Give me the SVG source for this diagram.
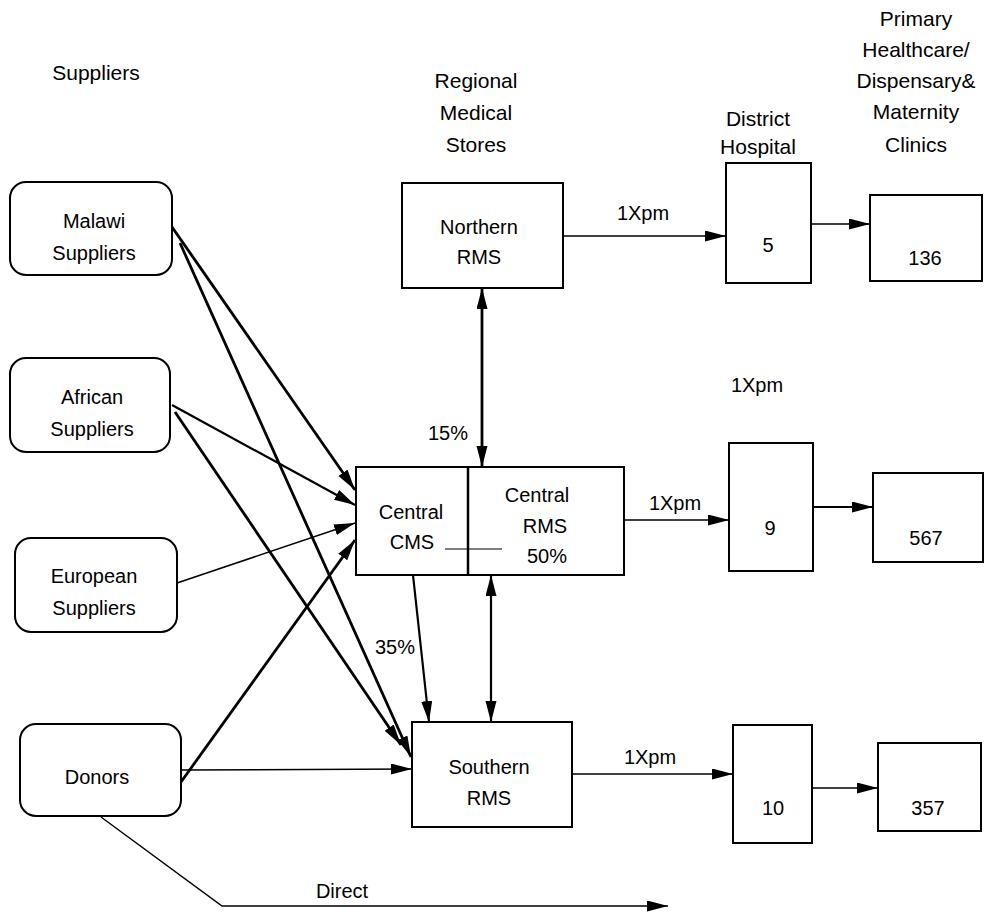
<svg xmlns="http://www.w3.org/2000/svg" width="991" height="912" viewBox="0 0 991 912">
<style>
  .box { fill: #fff; stroke: #000; stroke-width: 2; }
  .t { font-family: "Liberation Sans", Arial, sans-serif; font-size: 20px; fill: #000; text-anchor: middle; }
  .h { font-family: "Liberation Sans Narrow", "Liberation Sans", Arial, sans-serif; font-size: 21px; fill: #000; text-anchor: middle; }
  .c { fill: none; stroke: #000; }
  .w1 { stroke-width: 1.5; }
  .w2 { stroke-width: 2.2; }
  .w3 { stroke-width: 2.8; }
</style>
<defs>
  <marker id="ah" markerUnits="userSpaceOnUse" markerWidth="22" markerHeight="12" refX="21" refY="5.5" orient="auto-start-reverse">
    <path d="M0,0 L21,5.5 L0,11 z" fill="#000"/>
  </marker>
</defs>
<rect width="991" height="912" fill="#fff"/>

<g id="headers">
  <text class="h" x="96" y="80">Suppliers</text>
  <text class="h" x="476" y="88">Regional</text>
  <text class="h" x="476" y="120">Medical</text>
  <text class="h" x="476" y="152">Stores</text>
  <text class="h" x="758" y="126">District</text>
  <text class="h" x="758" y="154">Hospital</text>
  <text class="h" x="916" y="26">Primary</text>
  <text class="h" x="916" y="57">Healthcare/</text>
  <text class="h" x="916" y="88">Dispensary&amp;</text>
  <text class="h" x="916" y="119">Maternity</text>
  <text class="h" x="916" y="152">Clinics</text>
</g>

<g id="malawi">
  <rect class="box" x="10" y="182" width="162" height="93" rx="16"/>
  <text class="t" x="94" y="228">Malawi</text>
  <text class="t" x="94" y="260">Suppliers</text>
</g>
<g id="african">
  <rect class="box" x="10" y="358" width="160" height="94" rx="16"/>
  <text class="t" x="92" y="404">African</text>
  <text class="t" x="92" y="436">Suppliers</text>
</g>
<g id="european">
  <rect class="box" x="15" y="538" width="162" height="94" rx="16"/>
  <text class="t" x="94" y="583">European</text>
  <text class="t" x="94" y="615">Suppliers</text>
</g>
<g id="donors">
  <rect class="box" x="20" y="724" width="161" height="92" rx="16"/>
  <text class="t" x="97" y="784">Donors</text>
</g>

<g id="northern">
  <rect class="box" x="402" y="183" width="161" height="105"/>
  <text class="t" x="479" y="234">Northern</text>
  <text class="t" x="479" y="264">RMS</text>
</g>
<g id="central">
  <rect class="box" x="356" y="467" width="268" height="108"/>
  <line x1="468" y1="467" x2="468" y2="575" stroke="#000" stroke-width="2.5"/>
  <text class="t" x="411" y="519">Central</text>
  <text class="t" x="412" y="549">CMS</text>
  <text class="t" x="537" y="502">Central</text>
  <text class="t" x="545" y="533">RMS</text>
  <text class="t" x="547" y="563">50%</text>
</g>
<g id="southern">
  <rect class="box" x="412" y="722" width="160" height="105"/>
  <text class="t" x="489" y="774">Southern</text>
  <text class="t" x="489" y="805">RMS</text>
</g>

<g id="district5">
  <rect class="box" x="726" y="163" width="85" height="120"/>
  <text class="t" x="768" y="252">5</text>
</g>
<g id="district9">
  <rect class="box" x="729" y="443" width="84" height="128"/>
  <text class="t" x="770" y="535">9</text>
</g>
<g id="district10">
  <rect class="box" x="733" y="725" width="79" height="118"/>
  <text class="t" x="773" y="815">10</text>
</g>
<g id="clinic136">
  <rect class="box" x="870" y="195" width="112" height="86"/>
  <text class="t" x="925" y="265">136</text>
</g>
<g id="clinic567">
  <rect class="box" x="873" y="473" width="110" height="89"/>
  <text class="t" x="926" y="545">567</text>
</g>
<g id="clinic357">
  <rect class="box" x="878" y="743" width="103" height="88"/>
  <text class="t" x="928" y="815">357</text>
</g>

<g id="connectors">
  <line class="c w3" x1="172" y1="227" x2="355" y2="490" marker-end="url(#ah)"/>
  <line class="c w3" x1="180" y1="243" x2="411" y2="757" marker-end="url(#ah)"/>
  <line class="c w2" x1="172" y1="405" x2="355" y2="505" marker-end="url(#ah)"/>
  <line class="c w3" x1="175" y1="412" x2="401" y2="745" marker-end="url(#ah)"/>
  <line class="c w1" x1="177" y1="583" x2="355" y2="523" marker-end="url(#ah)"/>
  <line class="c w3" x1="181" y1="782" x2="355" y2="540" marker-end="url(#ah)"/>
  <line class="c w1" x1="181" y1="770" x2="412" y2="769" marker-end="url(#ah)"/>
  <polyline class="c w1" points="101,817 222,906 668,906" marker-end="url(#ah)"/>
  <line class="c w3" x1="482" y1="288" x2="482" y2="467" marker-start="url(#ah)" marker-end="url(#ah)"/>
  <line class="c w2" x1="491" y1="575" x2="491" y2="722" marker-start="url(#ah)" marker-end="url(#ah)"/>
  <line class="c w2" x1="413" y1="575" x2="429" y2="722" marker-end="url(#ah)"/>
  <line class="c w1" x1="563" y1="236" x2="726" y2="236" marker-end="url(#ah)"/>
  <line class="c w1" x1="811" y1="224" x2="870" y2="224" marker-end="url(#ah)"/>
  <line class="c w1" x1="624" y1="520" x2="729" y2="520" marker-end="url(#ah)"/>
  <line class="c w2" x1="813" y1="507" x2="873" y2="507" marker-end="url(#ah)"/>
  <line class="c w1" x1="572" y1="774" x2="733" y2="774" marker-end="url(#ah)"/>
  <line class="c w1" x1="812" y1="788" x2="878" y2="788" marker-end="url(#ah)"/>
  <line class="c" stroke-width="1" x1="445" y1="549" x2="502" y2="549"/>
</g>

<g id="labels">
  <text class="t" x="643" y="220">1Xpm</text>
  <text class="t" x="757" y="392">1Xpm</text>
  <text class="t" x="448" y="440">15%</text>
  <text class="t" x="675" y="510">1Xpm</text>
  <text class="t" x="395" y="654">35%</text>
  <text class="t" x="650" y="764">1Xpm</text>
  <text class="t" x="342" y="898">Direct</text>
</g>
</svg>
